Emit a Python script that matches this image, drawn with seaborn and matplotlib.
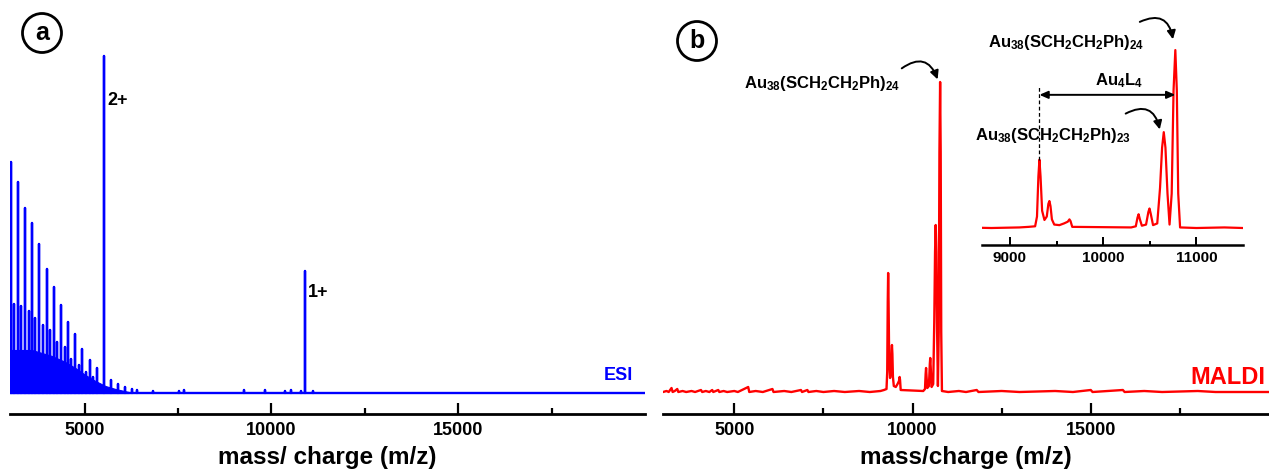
import numpy as np
import pandas as pd
import matplotlib
matplotlib.use("Agg")
import matplotlib.pyplot as plt
import seaborn as sns
from matplotlib.patches import Circle

# ---------------- data ----------------
# ESI spectrum: stick peaks (m/z, relative intensity)
esi_major_mz = [3022, 3202, 3398, 3586, 3784, 3980, 4168, 4364, 4552, 4751, 4938, 5134, 5322]
esi_major_int = [231, 211, 185, 170, 149, 124, 106, 88, 71, 59, 44, 33, 25]
esi_minor_mz = [3113, 3301, 3497, 3677, 3873, 4079, 4267, 4463, 4643, 4839, 5035, 5223]
esi_minor_int = [89, 87, 82, 75, 68, 63, 51, 46, 34, 28, 21, 16]
esi_charge_mz = [5529, 10896]          # 2+, 1+
esi_charge_int = [337, 122]
esi_charge_labels = ["2+", "1+"]
esi_small_mz = [5706, 5894, 6073, 6253, 6396, 6825, 7523, 7657, 9267, 9831, 10368, 10521, 10789, 11100]
esi_small_int = [13, 9, 6, 4, 3, 2, 2, 3, 3, 3, 2, 3, 2, 2]
# envelope of the dense unresolved low-mass peaks
esi_env_mz = [3022, 3586, 3854, 4122, 4481, 4750, 5018, 5287, 5555, 5824, 6181]
esi_env_int = [43, 43, 40, 37, 31, 25, 18, 12, 7, 4, 1]

# MALDI spectrum trace (m/z, relative intensity)
maldi_mz = [3000, 3100, 3160, 3239, 3270, 3330, 3400, 3430, 3550, 3650, 3800, 3900,
            4065, 4100, 4200, 4300, 4380, 4410, 4550, 4580, 4700, 4800, 5000, 5100,
            5390, 5420, 5600, 5800, 6070, 6100, 6400, 6600, 6870, 6900, 7050, 7080,
            7300, 7500, 7800, 8100, 8500, 8800, 9100, 9200, 9270,
            9290, 9305, 9316, 9328, 9345, 9370, 9395, 9412, 9423, 9435, 9450, 9475,
            9530, 9580, 9620, 9638, 9650, 9668, 10300, 10350, 10368, 10380, 10394,
            10415, 10460, 10485, 10497, 10510, 10535, 10580, 10610, 10632, 10650,
            10668, 10690, 10712, 10735, 10755, 10774, 10790, 10805, 10825, 11000,
            11300, 11500, 11800, 11850, 12500, 13000, 14000, 14500, 15000, 15050,
            15900, 15950, 16500, 17000, 18000, 18500, 20000]
maldi_int = [0, 1, 0, 4, 0, 1, 3, 0, 1, 0, 1, 0,
             2, 0, 1, 0, 2, 0, 2, 0, 1, 0, 1, 0,
             5, 0, 1, 0, 3, 0, 1, 0, 2, 0, 2, 0,
             1, 0, 1, 0, 1, 0, 1, 2, 3,
             20, 90, 119, 90, 30, 14, 20, 42, 47, 38, 15, 6,
             5, 8, 11, 15, 12, 2, 1, 3, 18, 24, 15,
             4, 6, 28, 34, 25, 5, 8, 70, 140, 167,
             140, 60, 6, 60, 240, 310, 240, 60, 1, 0,
             1, 0, 2, 0, 1, 0, 1, 0, 2, 0,
             2, 0, 1, 0, 1, 0, 0]

major_ticks = [5000, 10000, 15000]
minor_ticks = [7500, 12500, 17500]
inset_major_ticks = [9000, 10000, 11000]
inset_minor_ticks = [9500, 10500]

# ---------------- style ----------------
sns.set_style("white")
plt.rcParams["font.family"] = ["Liberation Sans", "DejaVu Sans"]
plt.rcParams["font.weight"] = "bold"
plt.rcParams["text.color"] = "black"
plt.rcParams["axes.labelcolor"] = "black"
plt.rcParams["xtick.color"] = "black"
plt.rcParams["mathtext.fontset"] = "custom"
plt.rcParams["mathtext.rm"] = "Liberation Sans:bold"
plt.rcParams["mathtext.it"] = "Liberation Sans:bold"
plt.rcParams["mathtext.bf"] = "Liberation Sans:bold"
plt.rcParams["mathtext.default"] = "rm"

W, H = 1269, 470
fig = plt.figure(figsize=(W / 100, H / 100), dpi=100)


def px_axes(x0, x1, ytop, ybot):
    return fig.add_axes([x0 / W, 1 - ybot / H, (x1 - x0) / W, (ybot - ytop) / H])


def style_axis(ax, major, minor, fs, lw, majlen, minlen, pad):
    for s in ["left", "right", "top"]:
        ax.spines[s].set_visible(False)
    ax.spines["bottom"].set_linewidth(lw)
    ax.spines["bottom"].set_color("black")
    ax.set_yticks([])
    ax.set_xticks(major)
    ax.set_xticks(minor, minor=True)
    ax.tick_params(axis="x", which="major", direction="in", length=majlen, width=lw * 0.8,
                   labelsize=fs, pad=pad, color="black", labelcolor="black", bottom=True)
    ax.tick_params(axis="x", which="minor", direction="in", length=minlen, width=lw * 0.8,
                   color="black", bottom=True)
    for t in ax.get_xticklabels():
        t.set_fontweight("bold")
    ax.set_ylabel("")
    ax.patch.set_alpha(0)


# ---------------- panel a: ESI ----------------
axa = px_axes(10, 645, 5, 414)
stick_mz = esi_major_mz + esi_minor_mz + esi_charge_mz + esi_small_mz
stick_int = esi_major_int + esi_minor_int + esi_charge_int + esi_small_int
order = np.argsort(stick_mz)
sx, sy = [3000], [0]
for i in order:
    sx += [stick_mz[i]] * 3
    sy += [0, stick_int[i], 0]
sx.append(20000)
sy.append(0)
esi_df = pd.DataFrame({"mz": sx, "intensity": sy})
axa.fill_between(esi_env_mz, 0, esi_env_int, color="#0000FF", lw=0.8)
sns.lineplot(data=esi_df, x="mz", y="intensity", sort=False, estimator=None,
             color="#0000FF", lw=1.7, ax=axa)
axa.set_xlim(3000, 20000)
axa.set_ylim(-21, 388)
style_axis(axa, major_ticks, minor_ticks, 13, 2.0, 8, 4, 6)
axa.set_xlabel("mass/ charge (m/z)", fontsize=17.5, fontweight="bold", labelpad=5)
for mz, y, lab in zip(esi_charge_mz, [293, 101], esi_charge_labels):
    axa.text(mz + 90, y, lab, fontsize=13, fontweight="bold", va="center", ha="left")
axa.text(19680, 18, "ESI", color="#0000FF", fontsize=13, fontweight="bold",
         ha="right", va="center")

# ---------------- panel b: MALDI ----------------
maldi_df = pd.DataFrame({"mz": maldi_mz, "intensity": maldi_int})
axb = px_axes(663, 1269, 5, 414)
sns.lineplot(data=maldi_df, x="mz", y="intensity", sort=False, estimator=None,
             color="#FF0000", lw=1.7, ax=axb)
axb.set_xlim(3000, 20000)
axb.set_ylim(-22, 387)
style_axis(axb, major_ticks, minor_ticks, 13, 2.0, 8, 4, 6)
axb.set_xlabel("mass/charge (m/z)", fontsize=17.5, fontweight="bold", labelpad=5)
axb.text(19888, 14, "MALDI", color="#FF0000", fontsize=17, fontweight="bold",
         ha="right", va="center")

lab24 = r"Au$_{38}$(SCH$_2$CH$_2$Ph)$_{24}$"
lab23 = r"Au$_{38}$(SCH$_2$CH$_2$Ph)$_{23}$"
arrow_kw = dict(arrowstyle="-|>,head_length=0.5,head_width=0.25", color="black", lw=1.4)
axb.text(5281, 304, lab24, fontsize=12, fontweight="bold", ha="left", va="baseline")
axb.annotate("", xy=(10730, 310), xytext=(9635, 322),
             arrowprops=dict(connectionstyle="arc3,rad=-0.7", **arrow_kw))

# ---------------- inset ----------------
axi = px_axes(982, 1243, 5, 245)
sns.lineplot(data=maldi_df, x="mz", y="intensity", sort=False, estimator=None,
             color="#FF0000", lw=1.6, ax=axi)
axi.set_xlim(8700, 11500)
axi.set_ylim(-29.6, 388.5)
style_axis(axi, inset_major_ticks, inset_minor_ticks, 11, 1.8, 6, 3, 4)
axi.set_xlabel("")
axi.text(8763, 315, lab24, fontsize=12, fontweight="bold", ha="left", va="baseline",
         clip_on=False)
axi.annotate("", xy=(10753, 324), xytext=(10366, 357),
             arrowprops=dict(connectionstyle="arc3,rad=-0.7", **arrow_kw))
axi.text(9914, 249, r"Au$_4$L$_4$", fontsize=12, fontweight="bold", ha="left",
         va="baseline")
axi.annotate("", xy=(10774, 232), xytext=(9316, 232),
             arrowprops=dict(arrowstyle="<|-|>,head_length=0.5,head_width=0.22",
                             color="black", lw=1.4, shrinkA=0, shrinkB=0))
axi.plot([9316, 9316], [118, 246], color="black", lw=0.9, ls=(0, (3, 2)))
axi.text(8624, 153, lab23, fontsize=12, fontweight="bold", ha="left", va="baseline",
         clip_on=False)
axi.annotate("", xy=(10613, 167), xytext=(10215, 197),
             arrowprops=dict(connectionstyle="arc3,rad=-0.7", **arrow_kw))

# ---------------- circled panel letters ----------------
for (cx, cy, letter) in [(42, 33, "a"), (697, 41, "b")]:
    fig.add_artist(Circle((cx / 100, (H - cy) / 100), 0.195, transform=fig.dpi_scale_trans,
                          fill=False, ec="black", lw=2.0))
    fig.text(cx / W, 1 - cy / H, letter, fontsize=18, fontweight="bold",
             ha="center", va="center", color="black")

fig.savefig("out.png", dpi=100)
